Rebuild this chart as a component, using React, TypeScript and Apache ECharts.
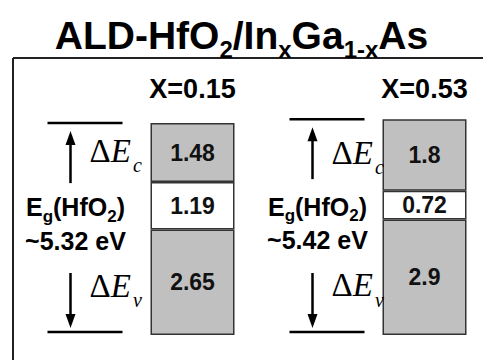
import React, { useEffect, useRef } from 'react';
import * as echarts from 'echarts';

// ---- data ----
const categories = ['X=0.15', 'X=0.53'];
const valenceOffset = [2.65, 2.9];
const bandGap = [1.19, 0.72];
const conductionOffset = [1.48, 1.8];
const hfo2GapLabels = ['~5.32 eV', '~5.42 eV'];

// ---- layout (not data) ----
const columnShift = [0, 10];

const serif = '"Liberation Serif", "Times New Roman", serif';
const sans = '"Liberation Sans", Arial, sans-serif';

export default function App() {
  const ref = useRef<HTMLDivElement>(null);

  useEffect(() => {
    if (!ref.current) return;
    const chart = echarts.init(ref.current, undefined, { renderer: 'svg' });

    const gray = '#c0c0c0';
    const border = '#333';
    const barCommon = {
      type: 'bar',
      stack: 'band',
      barWidth: 84,
      clip: false,
      label: {
        show: true,
        position: 'inside',
        fontFamily: sans,
        fontSize: 23,
        fontWeight: 'bold',
        color: '#111',
      },
    };

    const deltaRich = {
      d: { fontFamily: serif, fontSize: 33, color: '#000', verticalAlign: 'top', lineHeight: 34 },
      e: { fontFamily: serif, fontSize: 33, fontStyle: 'italic', color: '#000', verticalAlign: 'top', lineHeight: 34 },
      s: { fontFamily: serif, fontSize: 20, fontStyle: 'italic', color: '#000', verticalAlign: 'bottom', lineHeight: 41, padding: [0, 0, 0, 2] },
    };
    const egRich = {
      m: { fontFamily: sans, fontSize: 25, fontWeight: 'bold', color: '#000', verticalAlign: 'top', lineHeight: 26 },
      s: { fontFamily: sans, fontSize: 17, fontWeight: 'bold', color: '#000', verticalAlign: 'bottom', lineHeight: 30 },
    };

    const option: any = {
      animation: false,
      backgroundColor: '#fff',
      title: {
        text: '{m|ALD-HfO}{s|2}{m|/In}{s|x}{m|Ga}{s|1-x}{m|As}',
        left: 'center',
        top: 11,
        textStyle: {
          rich: {
            m: { fontFamily: sans, fontSize: 39, fontWeight: 'bold', color: '#000', verticalAlign: 'top', lineHeight: 41 },
            s: { fontFamily: sans, fontSize: 24, fontWeight: 'bold', color: '#000', verticalAlign: 'bottom', lineHeight: 45 },
          },
        },
      },
      graphic: [
        { type: 'line', shape: { x1: 13, y1: 58, x2: 483, y2: 58 }, style: { stroke: '#222', lineWidth: 2 } },
        { type: 'line', shape: { x1: 13, y1: 58, x2: 13, y2: 360 }, style: { stroke: '#222', lineWidth: 2 } },
      ],
      grid: { left: 192.5, width: 232, top: 104, bottom: 25 },
      xAxis: {
        type: 'category',
        data: categories,
        boundaryGap: false,
        position: 'top',
        axisLine: { show: false },
        axisTick: { show: false },
        splitLine: { show: false },
        axisLabel: {
          margin: 2,
          fontFamily: sans,
          fontSize: 27,
          fontWeight: 'bold',
          color: '#000',
        },
      },
      yAxis: { type: 'value', min: 0, max: 5.8, show: false, splitLine: { show: false } },
      series: [
        {
          ...barCommon,
          name: 'valence',
          data: valenceOffset,
          itemStyle: { color: gray, borderColor: border, borderWidth: 1.5 },
        },
        {
          ...barCommon,
          name: 'gap',
          data: bandGap,
          itemStyle: { color: '#fff', borderColor: border, borderWidth: 1.5 },
        },
        {
          ...barCommon,
          name: 'conduction',
          data: conductionOffset,
          itemStyle: { color: gray, borderColor: border, borderWidth: 1.5 },
        },
        {
          type: 'custom',
          name: 'annotations',
          clip: false,
          z: 5,
          data: categories.map((_, i) => [i, valenceOffset[i], bandGap[i], conductionOffset[i]]),
          encode: { x: 0, y: 1 },
          renderItem: (params: any, api: any) => {
            const i = api.value(0);
            const v = api.value(1);
            const g = api.value(2);
            const c = api.value(3);
            const total = v + g + c;
            const bottomPt = api.coord([i, 0]);
            const cx = bottomPt[0];
            const yBottom = bottomPt[1];
            const yTop = api.coord([i, total])[1];
            const yGapTop = api.coord([i, v + g])[1];
            const yGapBot = api.coord([i, v])[1];
            const s = columnShift[i];
            const x0 = cx - 145 + s;
            const x1 = cx - 70 + s;
            const ax = cx - 122 + s;
            const ycMid = (yTop + yGapTop) / 2;
            const ygMid = (yGapTop + yGapBot) / 2;
            const stroke = { stroke: '#000', lineWidth: 2.5 };
            return {
              type: 'group',
              children: [
                { type: 'line', shape: { x1: x0, y1: yTop, x2: x1, y2: yTop }, style: stroke },
                { type: 'line', shape: { x1: x0, y1: yBottom - 3, x2: x1, y2: yBottom - 3 }, style: stroke },
                { type: 'line', shape: { x1: ax, y1: yTop + 60, x2: ax, y2: yTop + 20 }, style: stroke },
                {
                  type: 'polygon',
                  shape: { points: [[ax, yTop + 8], [ax - 5, yTop + 22], [ax + 5, yTop + 22]] },
                  style: { fill: '#000' },
                },
                { type: 'line', shape: { x1: ax, y1: yBottom - 62, x2: ax, y2: yBottom - 20 }, style: stroke },
                {
                  type: 'polygon',
                  shape: { points: [[ax, yBottom - 7], [ax - 5, yBottom - 21], [ax + 5, yBottom - 21]] },
                  style: { fill: '#000' },
                },
                {
                  type: 'text',
                  style: {
                    text: '{d|Δ}{e|E}{s|c}',
                    rich: deltaRich,
                    x: cx - 103 + s,
                    y: ycMid + 2,
                    align: 'left',
                    verticalAlign: 'middle',
                  },
                },
                {
                  type: 'text',
                  style: {
                    text: '{m|E}{s|g}{m|(HfO}{s|2}{m|)}',
                    rich: egRich,
                    x: cx - 117 + s,
                    y: ygMid + 4,
                    align: 'center',
                    verticalAlign: 'middle',
                  },
                },
                {
                  type: 'text',
                  style: {
                    text: hfo2GapLabels[i],
                    x: cx - 117 + s,
                    y: ygMid + 35,
                    align: 'center',
                    verticalAlign: 'middle',
                    fontFamily: sans,
                    fontSize: 25,
                    fontWeight: 'bold',
                    fill: '#000',
                  },
                },
                {
                  type: 'text',
                  style: {
                    text: '{d|Δ}{e|E}{s|v}',
                    rich: deltaRich,
                    x: cx - 103 + s,
                    y: ygMid + 84,
                    align: 'left',
                    verticalAlign: 'middle',
                  },
                },
              ],
            };
          },
        },
      ],
    };

    chart.setOption(option);
    return () => chart.dispose();
  }, []);

  return (
    <div
      ref={ref}
      style={{ position: 'fixed', left: 0, top: 0, width: 483, height: 360, background: '#fff' }}
    />
  );
}
